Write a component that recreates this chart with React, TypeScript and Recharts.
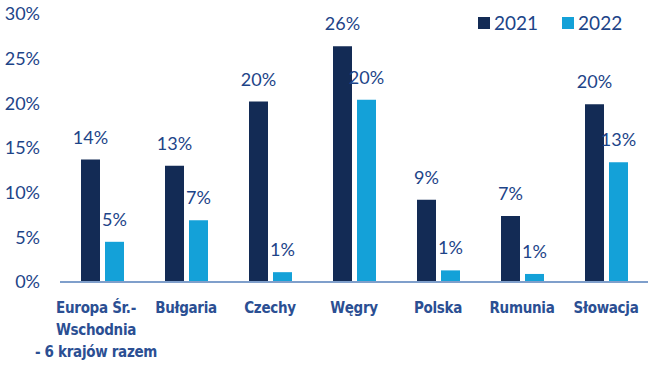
import { BarChart, Bar, XAxis, YAxis, LabelList } from 'recharts'

// Categories (line breaks as in the reference)
const categories = [
  'Europa Śr.-\nWschodnia\n- 6 krajów razem',
  'Bułgaria',
  'Czechy',
  'Węgry',
  'Polska',
  'Rumunia',
  'Słowacja',
]

const values2021 = [13.7, 13.0, 20.2, 26.4, 9.2, 7.4, 19.9]
const values2022 = [4.5, 6.9, 1.1, 20.4, 1.3, 0.9, 13.4]

const yTicks = [0, 5, 10, 15, 20, 25, 30]

const NAVY = '#132B55'
const LIGHT = '#14A1D8'
const TEXT = '#1D4488'
const LABEL = '#2B4F93'

const data = categories.map((name, i) => ({
  name,
  y2021: values2021[i],
  y2022: values2022[i],
}))

function CategoryTick(props: any) {
  const { x, y, payload } = props
  const lines = String(payload.value).split('\n')
  const shift = lines.length > 1 ? -6 : 0
  return (
    <text
      x={x}
      y={y}
      textAnchor="middle"
      fill={LABEL}
      fontFamily="'Liberation Sans Narrow', 'DejaVu Sans Condensed', sans-serif"
      fontWeight="bold"
      fontSize={15}
      letterSpacing={-0.3}
    >
      {lines.map((line, i) => (
        <tspan key={i} x={x + shift} y={y + 23 + i * 22}>
          {line}
        </tspan>
      ))}
    </text>
  )
}

function ChartLegend() {
  const items = [
    { label: '2021', color: NAVY },
    { label: '2022', color: LIGHT },
  ]
  return (
    <div style={{ position: 'absolute', top: 13, left: 478, display: 'flex', alignItems: 'center' }}>
      {items.map((it, i) => (
        <div key={it.label} style={{ display: 'flex', alignItems: 'center', marginRight: i === 0 ? 24 : 0 }}>
          <span style={{ display: 'inline-block', width: 12, height: 12, background: it.color, marginRight: 4 }} />
          <span style={{ color: TEXT, fontFamily: 'Lato, sans-serif', fontSize: 19, lineHeight: '20px' }}>{it.label}</span>
        </div>
      ))}
    </div>
  )
}

export default function App() {
  return (
    <div style={{ position: 'absolute', left: 0, top: 0, width: 650, height: 375, background: '#fff' }}>
      <BarChart
        width={650}
        height={375}
        data={data}
        margin={{ top: 14, right: 2, bottom: 0, left: 0 }}
        barSize={19}
        barGap={5}
      >
        <XAxis
          dataKey="name"
          interval={0}
          axisLine={{ stroke: '#7F9FCB', strokeWidth: 2 }}
          tickLine={false}
          height={93}
          tick={<CategoryTick />}
        />
        <YAxis
          domain={[0, 30]}
          ticks={yTicks}
          width={60}
          axisLine={false}
          tickLine={false}
          tickSize={0}
          tickMargin={20}
          tickFormatter={(v) => `${v}%`}
          tick={{ fill: TEXT, fontSize: 18, fontFamily: 'Lato, sans-serif' }}
        />
        <Bar dataKey="y2021" fill={NAVY} isAnimationActive={false}>
          <LabelList
            dataKey="y2021"
            position="top"
            offset={16}
            formatter={(v: any) => `${Math.round(Number(v))}%`}
            fill={TEXT}
            fontSize={18}
            fontFamily="Lato, sans-serif"
          />
        </Bar>
        <Bar dataKey="y2022" fill={LIGHT} isAnimationActive={false}>
          <LabelList
            dataKey="y2022"
            position="top"
            offset={16}
            formatter={(v: any) => `${Math.round(Number(v))}%`}
            fill={TEXT}
            fontSize={18}
            fontFamily="Lato, sans-serif"
          />
        </Bar>
      </BarChart>
      <ChartLegend />
    </div>
  )
}
